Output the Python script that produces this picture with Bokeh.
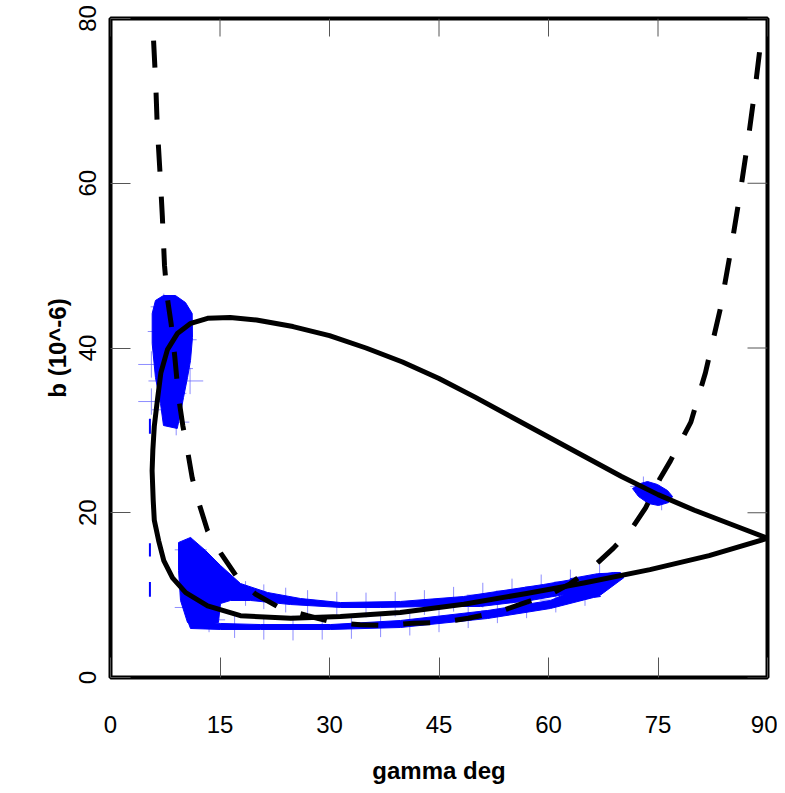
import math
from bokeh.plotting import figure
from bokeh.models import FixedTicker, ColumnDataSource
from bokeh.embed import file_html
from bokeh.resources import INLINE

# ---------------- data ----------------
x_ticks = [0, 15, 30, 45, 60, 75, 90]
y_ticks = [0, 20, 40, 60, 80]

# solid model curve (closed loop)
solid_gamma = [90, 85, 80, 75, 70, 65, 60, 55, 50, 45, 40, 35, 30, 25, 20, 16.4, 13.3, 11.0,
               9.2, 7.8, 6.9, 6.4, 6.0, 5.8, 5.7, 5.85, 6.0, 6.6, 7.3, 8.5, 10.3, 13.3, 17.8,
               24.7, 31.5, 39.7, 48.4, 57.0, 65.0, 73.9, 82.0, 90]
solid_b = [16.9, 18.6, 20.3, 22.2, 24.4, 26.8, 29.2, 31.6, 34.0, 36.3, 38.3, 40.0, 41.5, 42.6,
           43.4, 43.7, 43.6, 43.0, 41.8, 39.8, 37.0, 33.5, 30.5, 27.6, 25.1, 21.5, 19.1, 16.6,
           14.2, 12.1, 10.3, 8.7, 7.5, 7.2, 7.4, 7.9, 8.9, 10.2, 11.5, 13.1, 14.8, 16.9]

# dashed model curve
dash_gamma = [5.9, 6.2, 6.4, 6.8, 7.1, 7.4, 7.8, 8.3, 8.8, 9.3, 9.9, 10.5, 11.2, 12.1, 13.3,
              15.1, 17.4, 19.9, 23.3, 27.0, 30.5, 34.2, 37.9, 41.5, 45.5, 49.0, 53.0, 56.2,
              60.5, 63.0, 66.2, 68.9, 71.5, 73.3, 75.3, 76.7, 79.5, 81.5, 83.6, 85.0, 86.3,
              87.4, 88.4, 89.3]
dash_b = [77.3, 72.0, 67.0, 61.0, 56.0, 50.0, 46.0, 43.0, 39.0, 34.2, 30.6, 27.8, 24.2, 21.2,
          17.8, 15.1, 12.1, 10.1, 8.4, 7.5, 6.7, 6.4, 6.3, 6.6, 6.7, 7.2, 7.9, 8.9, 10.2, 11.4,
          13.5, 15.7, 18.2, 20.6, 24.2, 26.3, 31.0, 37.0, 45.0, 52.0, 59.1, 65.6, 72.2, 78.8]

# filled measurement regions (outlines)
region1_gamma = [5.71, 6.16, 7.26, 8.90, 10.27, 11.19, 11.23, 10.96, 10.55, 10.0, 9.59, 9.14,
                 7.26, 6.85, 6.16, 5.71]
region1_b = [44.19, 45.77, 46.37, 46.37, 45.52, 44.19, 41.27, 38.48, 36.42, 33.99, 32.05, 30.23,
             30.59, 33.26, 36.42, 40.55]

region2_gamma = [9.32, 10.96, 13.01, 15.07, 17.81, 21.51, 26.03, 31.51, 39.73, 48.36, 59.32,
                 68.90, 69.86, 70.27, 68.49, 63.01, 57.53, 50.68, 43.84, 36.99, 31.51, 24.66,
                 19.18, 16.44, 15.07, 14.79, 10.55, 9.59, 9.32]
region2_b = [16.39, 17.0, 15.42, 13.60, 11.41, 10.32, 9.59, 9.10, 9.23, 9.83, 11.29, 12.75,
             12.75, 12.14, 11.17, 10.20, 9.35, 8.62, 8.62, 8.50, 8.50, 8.86, 9.35, 9.35, 8.98,
             6.68, 6.68, 9.35, 12.99]

region3_gamma = [10.55, 15.07, 20.55, 30.14, 39.73, 51.64, 60.27, 63.42, 66.16, 67.12, 66.16,
                 60.27, 51.64, 39.73, 30.14, 20.55, 15.07, 10.96]
region3_b = [6.92, 6.56, 6.43, 6.43, 6.92, 8.13, 9.35, 10.56, 10.56, 9.83, 9.71, 8.38, 7.16,
             6.07, 5.83, 5.83, 5.83, 5.95]

region4_gamma = [63.0, 66.7, 69.2, 70.3, 67.1, 64.4, 62.3]
region4_b = [12.0, 12.6, 12.7, 12.1, 10.0, 9.4, 9.7]

region5_gamma = [71.51, 72.60, 73.56, 74.93, 76.30, 76.99, 76.44, 75.07, 73.70, 72.33]
region5_b = [22.94, 23.55, 23.79, 23.43, 22.70, 21.97, 21.24, 20.88, 21.12, 21.97]

# error crosses of the measurements
err_gamma = [7.3, 9.1, 6.9, 10.0, 8.0, 9.5, 7.0, 8.6, 7.5, 9.0, 5.6, 5.6, 10.9,
             11.0, 12.5, 14.0, 16.0, 18.5, 21.0, 24.0, 27.0, 31.0, 35.0, 39.0, 43.0, 47.0,
             51.0, 55.0, 59.0, 63.0, 67.0,
             11.0, 13.5, 17.0, 21.0, 25.0, 29.0, 33.0, 37.0, 41.0, 45.0, 49.0, 53.0, 57.0,
             61.0, 65.0,
             73.0, 75.5]
err_b = [45.0, 44.0, 42.0, 41.0, 39.5, 37.5, 36.0, 34.5, 32.5, 31.0, 38.0, 33.5, 36.0,
         15.5, 13.0, 11.5, 10.8, 10.2, 9.8, 9.4, 9.1, 8.9, 8.8, 8.9, 9.1, 9.5,
         10.0, 10.5, 11.0, 11.6, 12.2,
         8.5, 7.0, 6.3, 6.1, 6.0, 6.1, 6.2, 6.4, 6.6, 7.0, 7.5, 8.1, 8.7,
         9.4, 10.2,
         23.2, 21.5]
err_dgamma = [1.8] * 13 + [2.2] * 33 + [1.8, 1.8]
err_db = [1.6] * 13 + [1.5] * 33 + [1.2, 1.2]

dark_err_gamma = [5.4, 5.4, 5.4]
dark_err_b = [15.5, 10.7, 30.5]
dark_err_db = [0.8, 0.9, 0.9]

# ---------------- figure ----------------
FONT = "Liberation Sans"
X_MIN, X_MAX, Y_MIN, Y_MAX = 0, 90, 0, 80

p = figure(width=777, height=791, x_range=(X_MIN, X_MAX), y_range=(Y_MIN, Y_MAX),
           output_backend="svg", toolbar_location=None,
           min_border_left=110, min_border_right=10, min_border_top=18,
           min_border_bottom=114)
p.xgrid.visible = False
p.ygrid.visible = False
p.outline_line_color = "black"
p.outline_line_width = 4
p.background_fill_color = "white"
p.border_fill_color = "white"

# error crosses (light blue)
src_err = ColumnDataSource(dict(
    g=err_gamma, b=err_b,
    g0=[g - d for g, d in zip(err_gamma, err_dgamma)],
    g1=[g + d for g, d in zip(err_gamma, err_dgamma)],
    b0=[b - d for b, d in zip(err_b, err_db)],
    b1=[b + d for b, d in zip(err_b, err_db)],
))
p.segment(x0="g0", y0="b", x1="g1", y1="b", source=src_err,
          line_color="#5c5cff", line_alpha=0.7, line_width=1)
p.segment(x0="g", y0="b0", x1="g", y1="b1", source=src_err,
          line_color="#5c5cff", line_alpha=0.7, line_width=1)
p.segment(x0=dark_err_gamma, y0=[b - d for b, d in zip(dark_err_b, dark_err_db)],
          x1=dark_err_gamma, y1=[b + d for b, d in zip(dark_err_b, dark_err_db)],
          line_color="#0000ff", line_width=2)

# filled regions
for gx, by in [(region1_gamma, region1_b), (region2_gamma, region2_b),
               (region3_gamma, region3_b), (region4_gamma, region4_b),
               (region5_gamma, region5_b)]:
    p.patch(gx, by, fill_color="#0000ff", line_color="#0000ff", line_width=1)

# model curves
p.line(dash_gamma, dash_b, line_color="black", line_width=5, line_dash="27 25")
p.line(solid_gamma, solid_b, line_color="black", line_width=5, line_join="round")

# inward ticks on the top and right edges of the frame
p.ray(x=x_ticks, y=[Y_MAX] * len(x_ticks), length=18, length_units="screen",
      angle=-math.pi / 2, line_color="#555555", line_width=1)
p.ray(x=[X_MAX] * len(y_ticks), y=y_ticks, length=20, length_units="screen",
      angle=math.pi, line_color="#555555", line_width=1)

# axes
p.xaxis.ticker = FixedTicker(ticks=x_ticks)
p.xaxis.axis_label = "gamma deg"
p.yaxis.ticker = FixedTicker(ticks=y_ticks)
p.yaxis.axis_label = "b (10^-6)"
p.yaxis.major_label_orientation = "vertical"

for ax in p.axis:
    ax.axis_line_color = None
    ax.major_tick_in = 20
    ax.major_tick_out = 0
    ax.major_tick_line_color = "#555555"
    ax.major_tick_line_width = 1
    ax.minor_tick_line_color = None
    ax.major_label_text_font = FONT
    ax.major_label_text_font_size = "24px"
    ax.major_label_text_color = "black"
    ax.axis_label_text_font = FONT
    ax.axis_label_text_font_size = "24px"
    ax.axis_label_text_font_style = "bold"
    ax.axis_label_text_color = "black"

p.xaxis.major_label_standoff = 38
p.xaxis.axis_label_standoff = 21
p.yaxis.major_label_standoff = 15
p.yaxis.axis_label_standoff = 5

open("out.html", "w").write(file_html(p, INLINE))
